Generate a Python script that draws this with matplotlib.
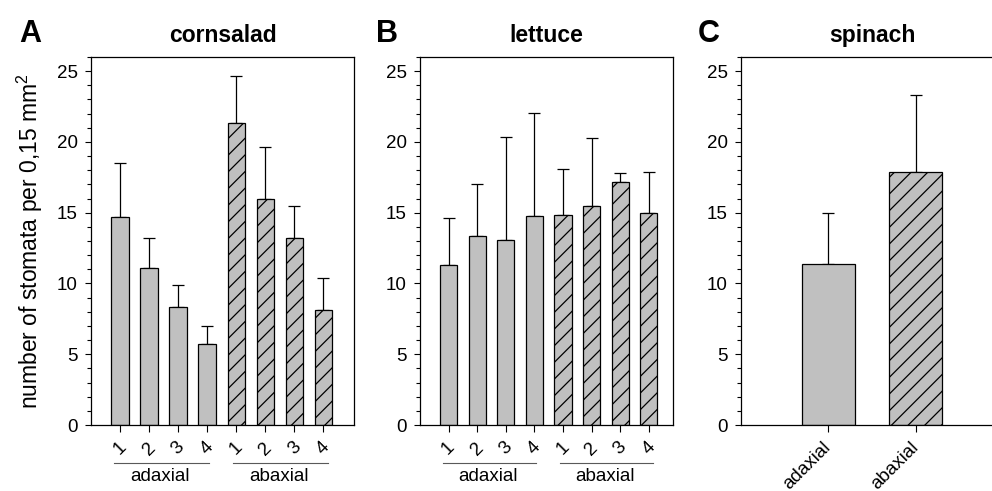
import numpy as np
import matplotlib
matplotlib.use("Agg")
import matplotlib.pyplot as plt
import matplotlib.transforms as mtransforms
from matplotlib.ticker import MultipleLocator

plt.rcParams["font.family"] = ["Liberation Sans", "DejaVu Sans"]
plt.rcParams["mathtext.fontset"] = "custom"
plt.rcParams["mathtext.rm"] = "Liberation Sans"
plt.rcParams["hatch.linewidth"] = 0.9

# stomata counts (mean and SD) per leaf position, adaxial then abaxial
positions = ["1", "2", "3", "4"]
sides = ["adaxial", "abaxial"]

cornsalad_mean = [14.73, 11.07, 8.36, 5.70, 21.35, 16.0, 13.2, 8.1]
cornsalad_sd = [3.79, 2.17, 1.51, 1.32, 3.30, 3.65, 2.28, 2.31]

lettuce_mean = [11.32, 13.37, 13.07, 14.78, 14.85, 15.47, 17.18, 14.97]
lettuce_sd = [3.28, 3.63, 7.27, 7.25, 3.25, 4.80, 0.59, 2.94]

spinach_mean = [11.38, 17.9]
spinach_sd = [3.61, 5.4]

BAR_COLOR = "#c0c0c0"
fig = plt.figure(figsize=(9.92, 4.91), dpi=100)

ax_a = fig.add_axes([0.0917, 0.1344, 0.2651, 0.7495])
ax_b = fig.add_axes([0.4234, 0.1344, 0.2550, 0.7495])
ax_c = fig.add_axes([0.7470, 0.1344, 0.2641, 0.7495])


def draw_bars(ax, means, sds, xmax):
    n = len(means)
    x = np.arange(1, n + 1)
    half = n // 2
    hatches = [""] * half + ["//"] * (n - half)
    for xi, m, h in zip(x, means, hatches):
        ax.bar(xi, m, width=0.6, color=BAR_COLOR, edgecolor="black",
               linewidth=0.9, hatch=h, zorder=2)
    ax.errorbar(x, means, yerr=[np.zeros(n), sds], fmt="none",
                ecolor="black", elinewidth=0.9, capsize=4, capthick=0.9,
                zorder=1)
    ax.set_xlim(0, xmax)
    ax.set_ylim(0, 26)
    ax.yaxis.set_major_locator(MultipleLocator(5))
    ax.yaxis.set_minor_locator(MultipleLocator(1))
    ax.tick_params(axis="y", which="major", direction="out", length=4.5,
                   width=0.8, labelsize=13.5, pad=5)
    ax.tick_params(axis="y", which="minor", direction="out", length=3,
                   width=0.8)
    ax.tick_params(axis="x", direction="out", length=5, width=0.8,
                   labelsize=13.5)
    for sp in ax.spines.values():
        sp.set_linewidth(0.9)
    return x


def group_labels(ax):
    trans = mtransforms.blended_transform_factory(ax.transData, ax.transAxes)
    spans = [(0.8, 4.05), (4.9, 8.15)]
    for (x0, x1), name in zip(spans, sides):
        ax.plot([x0, x1], [-0.103, -0.103], color="0.35", lw=0.8,
                transform=trans, clip_on=False)
        ax.text((x0 + x1) / 2 - 0.05, -0.117, name, transform=trans,
                ha="center", va="top", fontsize=13.5)


# A: cornsalad
x = draw_bars(ax_a, cornsalad_mean, cornsalad_sd, 9.05)
ax_a.set_xticks(x)
ax_a.set_xticklabels(positions * 2, rotation=45, ha="center")
ax_a.tick_params(axis="x", pad=5)
group_labels(ax_a)
ax_a.set_title("cornsalad", fontsize=16.5, fontweight="bold", pad=11)
ax_a.set_ylabel(r"number of stomata per 0,15 mm$^\mathregular{2}$",
                fontsize=16.5)
ax_a.yaxis.set_label_coords(-0.175, 0.5)

# B: lettuce
x = draw_bars(ax_b, lettuce_mean, lettuce_sd, 8.85)
ax_b.set_xticks(x)
ax_b.set_xticklabels(positions * 2, rotation=45, ha="center")
ax_b.tick_params(axis="x", pad=5)
group_labels(ax_b)
ax_b.set_title("lettuce", fontsize=16.5, fontweight="bold", pad=11)

# C: spinach
x = draw_bars(ax_c, spinach_mean, spinach_sd, 3.0)
ax_c.set_xticks(x)
ax_c.set_xticklabels(sides, rotation=45, ha="right", va="center",
                     rotation_mode="anchor")
ax_c.tick_params(axis="x", pad=9)
ax_c.set_title("spinach", fontsize=16.5, fontweight="bold", pad=11)

# panel letters
for xpos, letter in [(0.019, "A"), (0.379, "B"), (0.703, "C")]:
    fig.text(xpos, 0.915, letter, fontsize=22, fontweight="bold",
             ha="left", va="baseline")

fig.savefig("out.png", dpi=100)
